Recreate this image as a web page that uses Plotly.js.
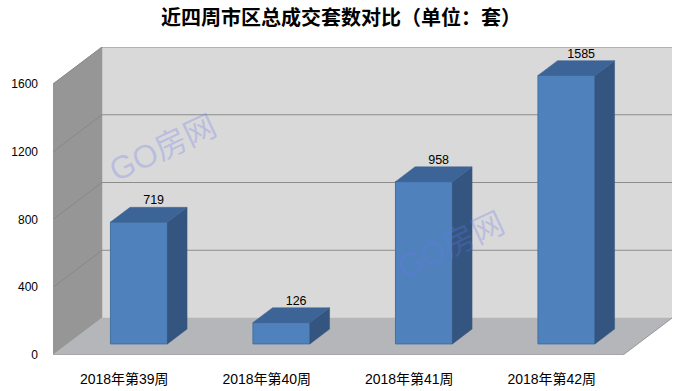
<!DOCTYPE html>
<html><head><meta charset="utf-8">
<script src="https://cdn.plot.ly/plotly-3.0.1.min.js"></script>
<style>html,body{margin:0;padding:0;background:#fff}</style>
</head><body><div id="chart" style="width:682px;height:391px"></div>
<script>
// ---- data ----
const categories = ['2018年第39周', '2018年第40周', '2018年第41周', '2018年第42周'];
const values = [719, 126, 958, 1585];
const yTicks = [0, 400, 800, 1200, 1600];
const titleText = '近四周市区总成交套数对比（单位：套）';
const watermarkText = 'GO房网';

// ---- oblique 3D projection (depth d in [0,1]) ----
const DX = 49 / 142.5;            // depth shift, category units
const DY = 37 / (271 / 1600);     // depth shift, value units
const WALL_TOP = yTicks[yTicks.length - 1];
const X0 = -0.5, X1 = categories.length - 0.5;
function P(x, y, d) { return [x + d * DX, y + d * DY]; }

function poly(pts, fill, lineColor) {
  const xs = [], ys = [];
  pts.forEach(p => { const q = P(p[0], p[1], p[2]); xs.push(q[0]); ys.push(q[1]); });
  xs.push(xs[0]); ys.push(ys[0]);
  return { type: 'scatter', mode: 'lines', x: xs, y: ys, fill: 'toself', fillcolor: fill,
    line: { color: lineColor || fill, width: lineColor ? 1 : 0.5 }, hoverinfo: 'skip', showlegend: false };
}

const traces = [];
// back wall
traces.push(poly([[X0, 0, 1], [X1, 0, 1], [X1, WALL_TOP, 1], [X0, WALL_TOP, 1]], '#D9D9D9'));
// side wall
traces.push(poly([[X0, 0, 0], [X0, 0, 1], [X0, WALL_TOP, 1], [X0, WALL_TOP, 0]], '#969696'));
// floor
traces.push(poly([[X0, 0, 0], [X1, 0, 0], [X1, 0, 1], [X0, 0, 1]], '#B4B6BA'));

// gridlines on back wall and side wall
const gx = [], gy = [];
const sx = [], sy = [];
yTicks.forEach(v => {
  if (v === 0) return;
  let a = P(X0, v, 1), b = P(X1, v, 1);
  gx.push(a[0], b[0], null); gy.push(a[1], b[1], null);
  let c = P(X0, v, 0);
  sx.push(c[0], a[0], null); sy.push(c[1], a[1], null);
});
traces.push({ type: 'scatter', mode: 'lines', x: gx, y: gy, line: { color: '#8C8C8C', width: 1 }, hoverinfo: 'skip', showlegend: false });
traces.push({ type: 'scatter', mode: 'lines', x: sx, y: sy, line: { color: '#888888', width: 1 }, hoverinfo: 'skip', showlegend: false });
// floor front edge
(function () {
  const a = P(X0, 0, 0), b = P(X1, 0, 0), c = P(X1, 0, 1);
  traces.push({ type: 'scatter', mode: 'lines', x: [a[0], b[0], c[0]], y: [a[1], b[1], c[1]], line: { color: '#9A9A9A', width: 1 }, hoverinfo: 'skip', showlegend: false });
})();

// bars
const HW = 0.2, D0 = 0.3, D1 = 0.7;
values.forEach((v, i) => {
  const l = i - HW, r = i + HW;
  traces.push(poly([[l, 0, D0], [r, 0, D0], [r, v, D0], [l, v, D0]], '#4F81BD', '#44719F'));
  traces.push(poly([[r, 0, D0], [r, 0, D1], [r, v, D1], [r, v, D0]], '#34557F'));
  traces.push(poly([[l, v, D0], [r, v, D0], [r, v, D1], [l, v, D1]], '#3D6496'));
});

// value labels
traces.push({
  type: 'scatter', mode: 'text',
  x: values.map((v, i) => P(i, v, 0.6)[0]),
  y: values.map((v, i) => P(i, v, D1)[1]),
  text: values.map(String), textposition: 'top center',
  textfont: { family: 'Liberation Sans, Arial, sans-serif', size: 12.5, color: '#000' },
  cliponaxis: false, hoverinfo: 'skip', showlegend: false
});

const wmFont = { family: 'Liberation Sans, Noto Sans CJK SC, sans-serif', size: 32, color: 'rgba(105,120,235,0.28)' };
const layout = {
  width: 682, height: 391,
  paper_bgcolor: '#fff', plot_bgcolor: 'rgba(0,0,0,0)',
  margin: { l: 53, r: 10, t: 47, b: 36 },
  showlegend: false,
  title: { text: '<b>' + titleText + '</b>', x: 0.5, xanchor: 'center', y: 1 - 18 / 391, yanchor: 'middle',
    font: { family: 'Noto Sans CJK SC, sans-serif', size: 20, color: '#000' } },
  xaxis: { range: [X0, X1 + DX], tickvals: categories.map((c, i) => i), ticktext: categories,
    showgrid: false, zeroline: false, showline: false, ticks: '', ticklabelstandoff: 14,
    tickfont: { family: 'Liberation Sans Narrow, Liberation Sans, Noto Sans CJK SC, sans-serif', size: 14, color: '#000' },
    fixedrange: true },
  yaxis: { range: [0, WALL_TOP + DY], tickvals: yTicks, ticktext: yTicks.map(String),
    showgrid: false, zeroline: false, showline: false, ticks: '', ticklabelstandoff: 14,
    tickfont: { family: 'Liberation Sans, Arial, sans-serif', size: 12, color: '#000' },
    fixedrange: true },
  annotations: [
    { text: watermarkText, xref: 'paper', yref: 'paper', x: (163 - 53) / 619, y: (355 - 148) / 308,
      xanchor: 'center', yanchor: 'middle', showarrow: false, textangle: -25, font: wmFont },
    { text: watermarkText, xref: 'paper', yref: 'paper', x: (451 - 53) / 619, y: (355 - 245) / 308,
      xanchor: 'center', yanchor: 'middle', showarrow: false, textangle: -25, font: wmFont }
  ]
};

Plotly.newPlot('chart', traces, layout, { staticPlot: true, displayModeBar: false });
</script></body></html>
